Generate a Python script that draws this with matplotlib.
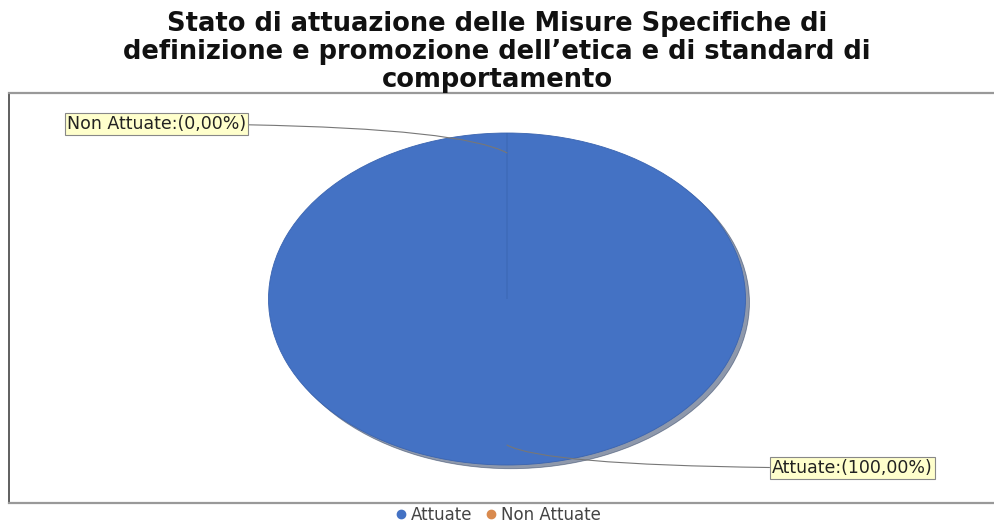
import matplotlib.pyplot as plt
import numpy as np

# dati
categorie = ['Attuate', 'Non Attuate']
valori = [100.0, 0.0]
colori = ['#4472C4', '#ED7D31']
etichette = ['Attuate:(100,00%)', 'Non Attuate:(0,00%)']
titolo = ("Stato di attuazione delle Misure Specifiche di\n"
          "definizione e promozione dell\u2019etica e di standard di\n"
          "comportamento")

W, H = 994, 524
fig = plt.figure(figsize=(W / 100, H / 100), dpi=100)

# area del grafico (in pixel)
x0, x1, y0, y1 = 9, 1000, 93, 503
ax = fig.add_axes([x0 / W, 1 - y1 / H, (x1 - x0) / W, (y1 - y0) / H])

wedges, _ = ax.pie(valori, colors=colori, startangle=90, counterclock=False,
                   shadow={'ox': 0.012, 'oy': -0.016, 'shade': 0.55},
                   wedgeprops=dict(edgecolor='#3a64b0', linewidth=0.6))

# ellisse: centro (507, 299) px, semiassi 238 x 166 px
cx, cy, rx, ry = 507, 299, 238.5, 166
ax.set_aspect('auto')
ax.set_xlim(-(cx - x0) / rx, (x1 - cx) / rx)
ax.set_ylim(-(y1 - cy) / ry, (cy - y0) / ry)

ax.set_axis_on()
ax.set_frame_on(True)
for s in ['left', 'top', 'bottom', 'right']:
    ax.spines[s].set_visible(True)
ax.spines['left'].set_color('#444444')
ax.spines['top'].set_color('#999999')
ax.spines['bottom'].set_color('#999999')
ax.spines['left'].set_linewidth(1.2)
ax.spines['top'].set_linewidth(1.6)
ax.spines['bottom'].set_linewidth(1.6)
ax.set_xticks([])
ax.set_yticks([])

# etichette con linee di richiamo
pos_testo = {'Non Attuate:(0,00%)': ((246 - cx) / rx, (cy - 124) / ry, 'right'),
             'Attuate:(100,00%)': ((772 - cx) / rx, (cy - 468) / ry, 'left')}
for w, lab in zip(wedges, etichette):
    ang = np.deg2rad((w.theta1 + w.theta2) / 2)
    r = 0.88
    xy = (r * np.cos(ang), r * np.sin(ang))
    tx, ty, ha = pos_testo[lab]
    ax.annotate(lab, xy=xy, xytext=(tx, ty), ha=ha, va='center',
                fontsize=12.5, color='#222222',
                bbox=dict(boxstyle='square,pad=0.12', fc='#FFFFCC',
                          ec='#888888', lw=0.8),
                arrowprops=dict(arrowstyle='-', color='#777777', lw=0.8,
                                shrinkA=0, shrinkB=0,
                                connectionstyle='angle3,angleA=0,angleB=-28'))

fig.text(497 / W, 1 - 52 / H, titolo, ha='center', va='center',
         fontsize=18.5, fontweight='bold', linespacing=1.1, color='#111111')

handles = [plt.Line2D([], [], marker='o', ls='', color=c, markersize=6)
           for c in ['#4472C4', '#D98A4E']]
fig.legend(handles, categorie, loc='center', bbox_to_anchor=(497 / W, 1 - 515 / H),
           ncol=2, frameon=False, fontsize=12, handletextpad=0.1,
           columnspacing=0.6, handlelength=1.0, labelcolor='#444444')

fig.savefig('out.png', dpi=100)
